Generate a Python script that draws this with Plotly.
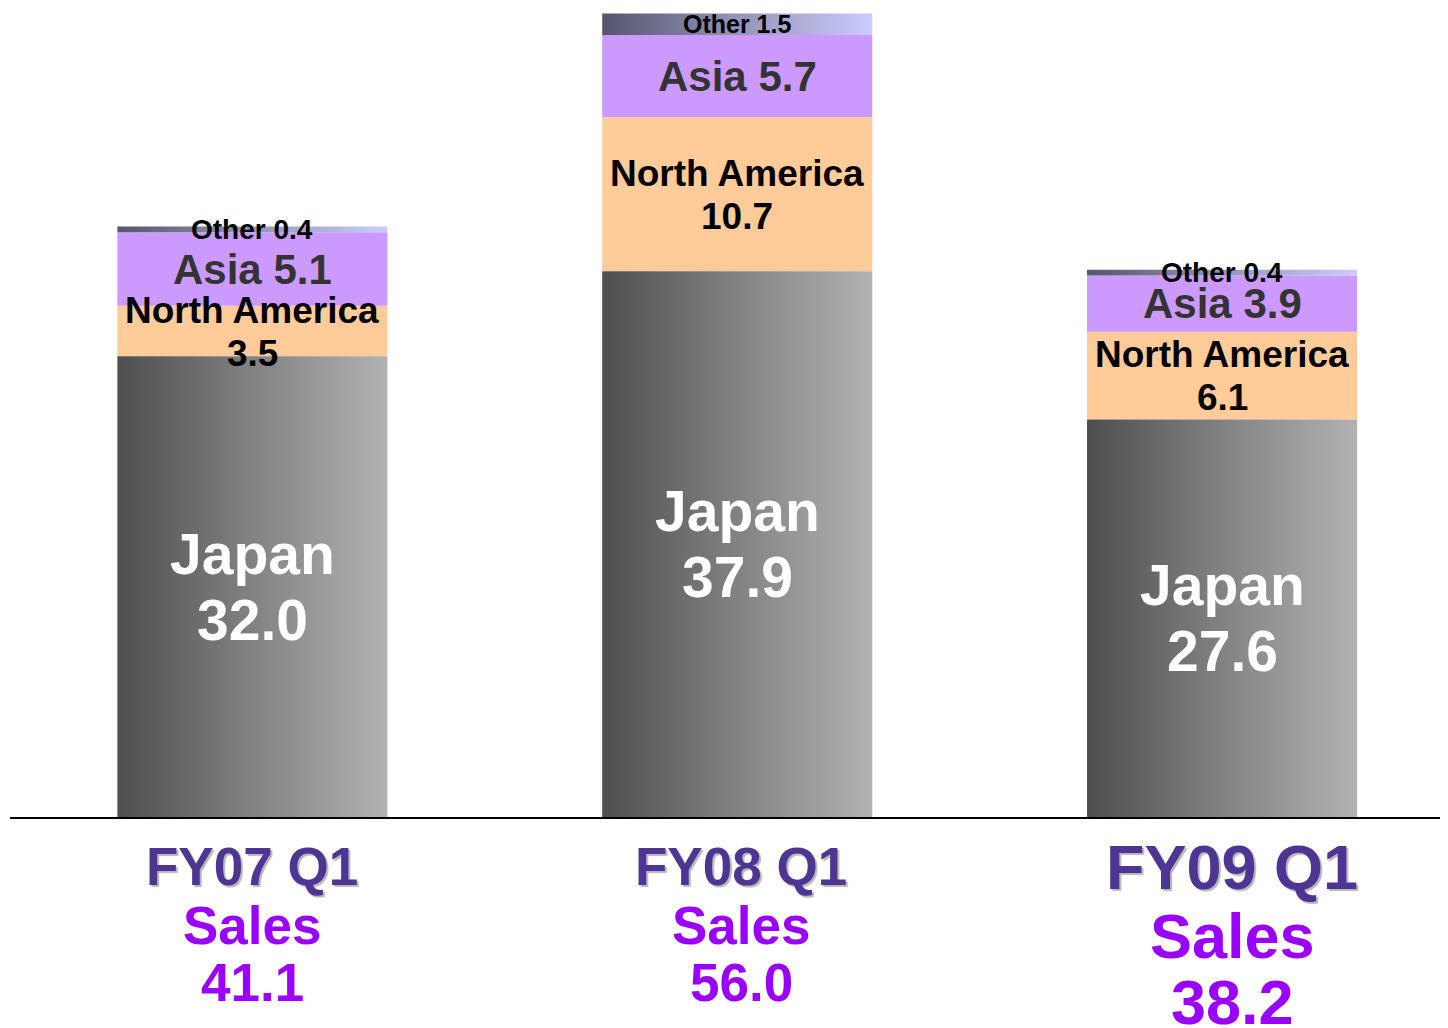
import plotly.graph_objects as go

categories = ["FY07 Q1", "FY08 Q1", "FY09 Q1"]
sales_total = [41.1, 56.0, 38.2]
japan = [32.0, 37.9, 27.6]
north_america = [3.5, 10.7, 6.1]
asia = [5.1, 5.7, 3.9]
other = [0.4, 1.5, 0.4]

FONT = "Liberation Sans, Arial, sans-serif"
BAR_W = 0.557
xs = list(range(len(categories)))

fig = go.Figure()

base_na = [j for j in japan]
base_asia = [j + n for j, n in zip(japan, north_america)]
base_other = [j + n + a for j, n, a in zip(japan, north_america, asia)]


def gradient_box(x, y0, h, scale):
    l, r = x - BAR_W / 2, x + BAR_W / 2
    fig.add_trace(go.Scatter(
        x=[l, r, r, l, l], y=[y0, y0, y0 + h, y0 + h, y0],
        mode="lines", line=dict(width=0), fill="toself",
        fillgradient=dict(type="horizontal", colorscale=scale),
        hoverinfo="skip", showlegend=False))


japan_scale = [[0, "#4e4e4e"], [0.5, "#828282"], [1, "#b2b2b2"]]
other_scale = [[0, "#55556e"], [0.5, "#9494b8"], [1, "#ccccff"]]

for i, x in enumerate(xs):
    gradient_box(x, 0, japan[i], japan_scale)
    gradient_box(x, base_other[i], other[i], other_scale)

fig.add_trace(go.Bar(x=xs, y=north_america, base=base_na, width=BAR_W,
                     marker=dict(color="#ffcc99", line=dict(width=0)),
                     hoverinfo="skip", showlegend=False))
fig.add_trace(go.Bar(x=xs, y=asia, base=base_asia, width=BAR_W,
                     marker=dict(color="#cc99ff", line=dict(width=0)),
                     hoverinfo="skip", showlegend=False))

ann = []


def label(x, y, text, size, color, yshift=0, xshift=0, shadow=None):
    f = dict(family=FONT, size=size, color=color, weight="bold")
    if shadow:
        f["shadow"] = shadow
    ann.append(dict(x=x, y=y, xref="x", yref="y", text=text, showarrow=False,
                    font=f, xanchor="center", yanchor="middle",
                    yshift=yshift, xshift=xshift))


other_sizes = [28, 25, 28]
for i, x in enumerate(xs):
    jm = japan[i] / 2
    label(x, jm, "Japan", 57, "white", yshift=33)
    label(x, jm, f"{japan[i]:.1f}", 57, "white", yshift=-33)
    nm = base_na[i] + north_america[i] / 2
    label(x, nm, "North America", 37, "black", yshift=21)
    label(x, nm, f"{north_america[i]:.1f}", 37, "black", yshift=-22)
    am = base_asia[i] + asia[i] / 2
    label(x, am, f"Asia {asia[i]:.1f}", 42, "#333333")
    om = base_other[i] + other[i] / 2
    label(x, om, f"Other {other[i]:.1f}", other_sizes[i], "black")

# category labels below the axis
cat_sizes = [53, 53, 63]
cat_shifts = [(-49, -108, -165), (-49, -108, -165), (-50, -119, -185)]
cat_x = [0, 4, 10]
for i, x in enumerate(xs):
    s1, s2, s3 = cat_shifts[i]
    label(x, 0, categories[i], cat_sizes[i], "#4f3593", yshift=s1,
          xshift=cat_x[i], shadow="2px 2px 1px #b8b8b8")
    label(x, 0, "Sales", cat_sizes[i], "#9900ff", yshift=s2, xshift=cat_x[i])
    label(x, 0, f"{sales_total[i]:.1f}", cat_sizes[i], "#9900ff", yshift=s3,
          xshift=cat_x[i])

fig.update_layout(
    width=1440, height=1020,
    margin=dict(l=2, r=0, t=0, b=211),
    paper_bgcolor="white", plot_bgcolor="white",
    barmode="overlay",
    showlegend=False,
    annotations=ann,
    xaxis=dict(range=[-0.5, 2.466], showgrid=False, zeroline=False,
               showticklabels=False, ticks="", showline=True,
               linecolor="black", linewidth=1.5),
    yaxis=dict(range=[0, 56.18], showgrid=False, zeroline=False,
               showticklabels=False, ticks="", showline=False),
)

fig.write_html("out.html")
